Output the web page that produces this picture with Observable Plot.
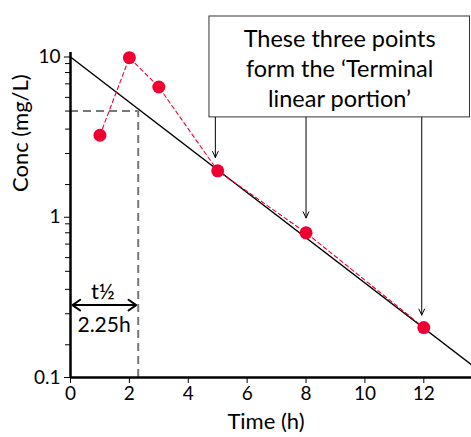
<!DOCTYPE html>
<html>
<head>
<meta charset="utf-8">
<script src="https://cdn.jsdelivr.net/npm/d3@7"></script>
<script src="https://cdn.jsdelivr.net/npm/@observablehq/plot@0.6"></script>
<style>
  html, body { margin: 0; padding: 0; background: white; }
  svg { display: block; }
</style>
</head>
<body>
<div id="chart"></div>
<script>
// Observed concentrations
const time = [1, 2, 3, 5, 8, 12];
const conc = [3.25, 9.9, 6.5, 1.95, 0.8, 0.205];

// Terminal fit line (end points)
const fitTime = [0, 13.62];
const fitConc = [10, 0.12];

// Axis ticks
const xTicks = [0, 2, 4, 6, 8, 10, 12];
const yMajor = [0.1, 1, 10];
const yMinor = [0.16, 0.25, 0.355, 0.46, 0.56, 0.68, 0.8, 0.91,
                1.6, 2.5, 3.55, 4.6, 5.6, 6.8, 8, 9.1];

// Annotations
const halfLifeTime = 2.3;
const halfConc = 4.6;
const boxLines = "These three points\nform the \u2018Terminal\nlinear portion\u2019";
const arrowTargets = [
  {t: 4.92, c: 2.36},
  {t: 8.0, c: 0.99},
  {t: 11.93, c: 0.245}
];

const obs = time.map((t, i) => ({t, c: conc[i]}));
const fit = fitTime.map((t, i) => ({t, c: fitConc[i]}));
const red = "#ee0033";
const boxBottom = 4.2;

const chart = Plot.plot({
  width: 471,
  height: 437,
  marginLeft: 70,
  marginRight: 0,
  marginTop: 52,
  marginBottom: 60,
  style: {fontFamily: "Lato, sans-serif", fontSize: "19px", color: "black", background: "white"},
  x: {domain: [0, 13.62], axis: null},
  y: {type: "log", domain: [0.1, 10.67], axis: null},
  marks: [
    // dashed half-life guides
    Plot.ruleY([halfConc], {x1: 0, x2: halfLifeTime, stroke: "#777", strokeWidth: 2, strokeDasharray: "8,5"}),
    Plot.ruleX([halfLifeTime], {y1: 0.1, y2: halfConc, stroke: "#777", strokeWidth: 2, strokeDasharray: "8,5"}),
    // fit line
    Plot.line(fit, {x: "t", y: "c", stroke: "black", strokeWidth: 1.5}),
    // observed
    Plot.line(obs, {x: "t", y: "c", stroke: red, strokeWidth: 1.1, strokeDasharray: "4,3"}),
    Plot.dot(obs, {x: "t", y: "c", r: 6.5, fill: red}),
    // axes
    Plot.axisX({ticks: xTicks, tickSize: 6, tickPadding: 3, label: null, tickFormat: d => String(d)}),
    Plot.axisY({ticks: yMajor, tickSize: 6, tickPadding: 4, label: null, tickFormat: d => String(d)}),
    Plot.axisY({ticks: yMinor, tickSize: 5, label: null, tickFormat: () => ""}),
    Plot.ruleX([0], {stroke: "black", strokeWidth: 2.5}),
    Plot.ruleY([0.1], {stroke: "black", strokeWidth: 2.5}),
    // axis labels
    Plot.text(["Conc (mg/L)"], {frameAnchor: "left", rotate: -90, dx: -50, dy: -23, fontSize: 22}),
    Plot.text(["Time (h)"], {frameAnchor: "bottom", dy: 51, dx: -5, fontSize: 22}),
    // half-life arrow
    Plot.arrow([{a: 1.15, b: 0.07}, {a: 1.15, b: 2.23}], {x1: "a", x2: "b", y1: 0.283, y2: 0.283, stroke: "black", strokeWidth: 2, headLength: 7, headAngle: 70}),
    Plot.text(["t\u00BD"], {x: 1.1, y: 0.341, fontSize: 22}),
    Plot.text(["2.25h"], {x: 1.14, y: 0.212, fontSize: 21}),
    // annotation box
    Plot.rect([0], {x1: 4.72, x2: 13.57, y1: boxBottom, y2: 17.9, fill: "white", stroke: "#333", strokeWidth: 1}),
    Plot.text([boxLines], {x: 9.14, y: 8.64, fontSize: 23.5, lineHeight: 1.28}),
    Plot.arrow(arrowTargets, {x1: "t", x2: "t", y1: boxBottom, y2: "c", stroke: "black", strokeWidth: 1, headLength: 10, headAngle: 50})
  ]
});
document.getElementById("chart").appendChild(chart);
</script>
</body>
</html>
